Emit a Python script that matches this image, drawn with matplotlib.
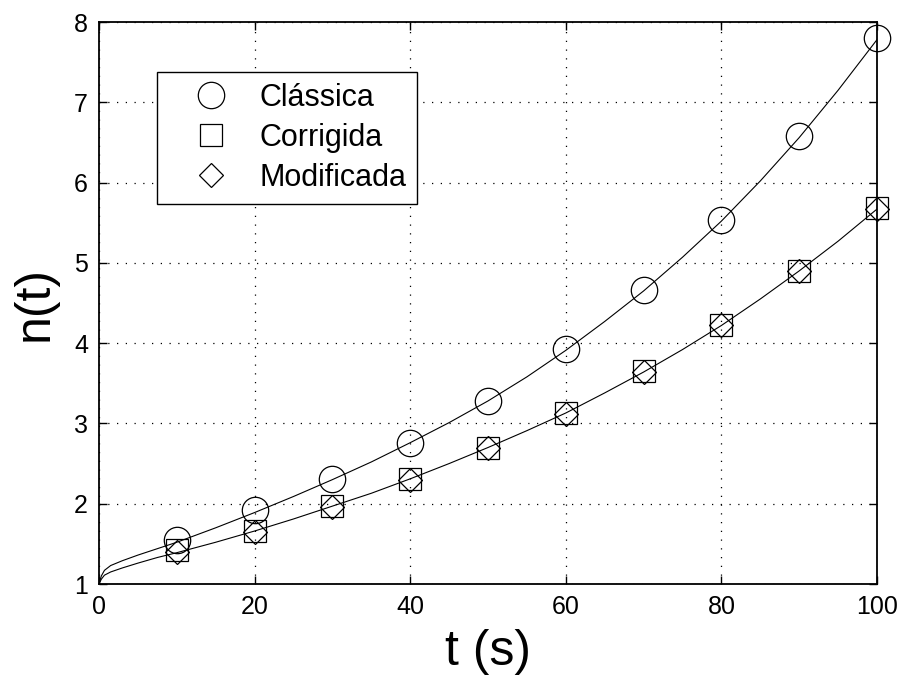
import matplotlib.pyplot as plt
import numpy as np

# curvas continuas
t_linha = [0, 0.3, 0.7, 1.5, 3, 5, 7.5, 10, 15, 20, 25, 30, 35, 40, 45, 50,
           55, 60, 65, 70, 75, 80, 85, 90, 95, 100]
n_classica_linha = [1.0, 1.10, 1.17, 1.23, 1.29, 1.36, 1.44, 1.52, 1.70, 1.89,
                    2.09, 2.30, 2.52, 2.76, 3.01, 3.28, 3.58, 3.91, 4.27, 4.65,
                    5.07, 5.52, 6.02, 6.56, 7.15, 7.78]
n_corrigida_linha = [1.0, 1.06, 1.11, 1.15, 1.20, 1.26, 1.33, 1.39, 1.52, 1.66,
                     1.81, 1.97, 2.13, 2.31, 2.50, 2.70, 2.91, 3.13, 3.38, 3.64,
                     3.92, 4.22, 4.55, 4.90, 5.27, 5.67]

# pontos marcados
t_pontos = [10, 20, 30, 40, 50, 60, 70, 80, 90, 100]
n_classica = [1.55, 1.92, 2.31, 2.76, 3.28, 3.93, 4.66, 5.53, 6.58, 7.80]
n_corrigida = [1.42, 1.66, 1.97, 2.31, 2.70, 3.13, 3.65, 4.22, 4.90, 5.68]
n_modificada = [1.40, 1.65, 1.96, 2.30, 2.70, 3.12, 3.64, 4.22, 4.90, 5.67]

plt.rcParams['font.family'] = ['Liberation Sans', 'DejaVu Sans']

fig = plt.figure(figsize=(8.98, 6.79), dpi=100)
ax = fig.add_axes([99/898, 95/679, 778/898, 562/679])

ax.plot(t_linha, n_classica_linha, color='black', lw=0.8)
ax.plot(t_linha, n_corrigida_linha, color='black', lw=0.8)

ax.plot(t_pontos, n_classica, 'o', ms=19, mfc='none', mec='black', mew=0.9,
        label='Clássica', clip_on=False)
ax.plot(t_pontos, n_corrigida, 's', ms=15.5, mfc='none', mec='black', mew=0.9,
        label='Corrigida', clip_on=False)
ax.plot(t_pontos, n_modificada, 'D', ms=12.5, mfc='none', mec='black', mew=0.9,
        label='Modificada', clip_on=False)

ax.set_xlim(0, 100)
ax.set_ylim(1, 8)
ax.set_xticks(np.arange(0, 101, 20))
ax.set_yticks(np.arange(1, 9, 1))
ax.grid(True, color='black', linestyle=(0, (1, 6)), lw=0.9)
ax.tick_params(direction='in', top=True, right=True, length=6, width=1,
               labelsize=18, pad=8)
for s in ax.spines.values():
    s.set_linewidth(1.3)

ax.set_xlabel('t (s)', fontsize=36, labelpad=7)
ax.set_ylabel('n(t)', fontsize=36, labelpad=12)

leg = ax.legend(loc='upper left', bbox_to_anchor=(0.0746, 0.911), fontsize=22,
                frameon=True, fancybox=False, edgecolor='black', framealpha=1,
                borderaxespad=0, handletextpad=0.2, borderpad=0.35,
                labelspacing=0.33, handlelength=2.8)
leg.get_frame().set_linewidth(1.0)

fig.savefig('out.png', dpi=100)
